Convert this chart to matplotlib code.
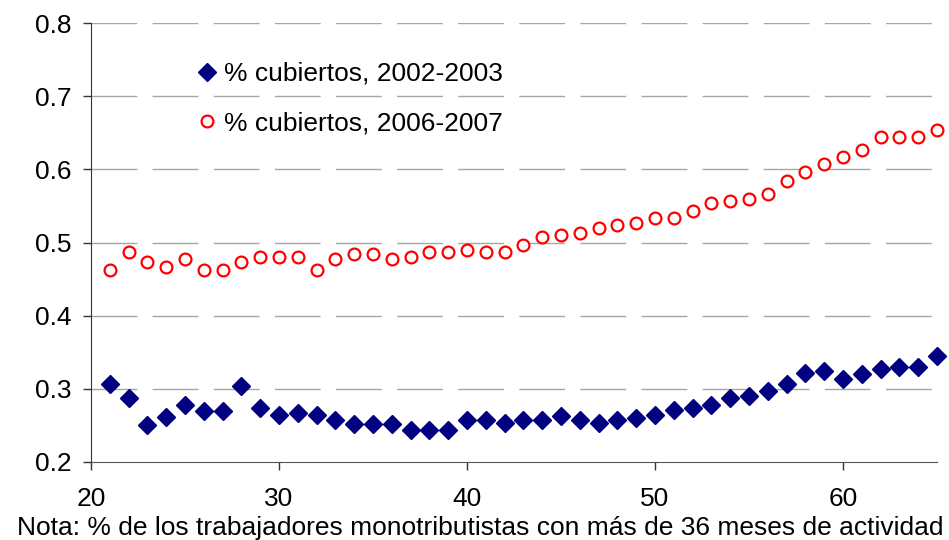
import numpy as np
import matplotlib
matplotlib.use("Agg")
import matplotlib.pyplot as plt

plt.rcParams['font.family'] = ['Liberation Sans', 'DejaVu Sans']

# edad (meses de actividad > 36)
edad = list(range(21, 66))

# % cubiertos, 2002-2003
cub_0203 = [0.307, 0.287, 0.250, 0.261, 0.277, 0.270, 0.270, 0.304, 0.274, 0.264,
            0.267, 0.264, 0.257, 0.251, 0.251, 0.251, 0.243, 0.244, 0.243, 0.257,
            0.257, 0.253, 0.257, 0.257, 0.263, 0.257, 0.253, 0.257, 0.260, 0.264,
            0.271, 0.273, 0.277, 0.287, 0.290, 0.297, 0.307, 0.321, 0.324, 0.313,
            0.320, 0.327, 0.330, 0.330, 0.344]

# % cubiertos, 2006-2007
cub_0607 = [0.463, 0.487, 0.473, 0.466, 0.477, 0.463, 0.463, 0.473, 0.480, 0.480,
            0.480, 0.463, 0.477, 0.484, 0.484, 0.477, 0.480, 0.487, 0.487, 0.490,
            0.487, 0.487, 0.497, 0.507, 0.510, 0.513, 0.520, 0.524, 0.527, 0.534,
            0.534, 0.543, 0.554, 0.557, 0.560, 0.567, 0.584, 0.597, 0.607, 0.617,
            0.627, 0.644, 0.644, 0.644, 0.654]

labels = ['% cubiertos, 2002-2003', '% cubiertos, 2006-2007']

W, H = 949, 540
fig = plt.figure(figsize=(W / 100, H / 100), dpi=100)
ax = fig.add_axes([91 / W, 1 - 461.7 / H, (937 - 91) / W, (461.7 - 23.3) / H])

ax.plot(edad, cub_0203, linestyle='none', marker='D', ms=9, color='#000080',
        mec='#000080', label=labels[0], clip_on=False, zorder=3)
ax.plot(edad, cub_0607, linestyle='none', marker='o', ms=8.5, mfc='white',
        mec='#ff0000', mew=1.6, label=labels[1], clip_on=False, zorder=3)

ax.set_xlim(20, 65)
ax.set_ylim(0.2, 0.8)
ax.set_xticks([20, 30, 40, 50, 60])
ax.set_yticks(np.arange(0.2, 0.81, 0.1))
ax.set_yticklabels(['0.2', '0.3', '0.4', '0.5', '0.6', '0.7', '0.8'])

for y in [0.3, 0.4, 0.5, 0.6, 0.7, 0.8]:
    ax.axhline(y, color='#a6a6a6', lw=1.0, dashes=(33, 11), zorder=1)

for s in ['top', 'right']:
    ax.spines[s].set_visible(False)
ax.spines['left'].set_color('#333333')
ax.spines['bottom'].set_color('#555555')
ax.tick_params(axis='both', direction='out', length=6, color='#333333',
               labelsize=19, width=1)
ax.tick_params(axis='y', pad=8)
ax.tick_params(axis='x', pad=12)

ax.legend(loc='upper left', bbox_to_anchor=(196 / W, 1 - 62 / H),
          bbox_transform=fig.transFigure, frameon=False, fontsize=19,
          handletextpad=0.25, labelspacing=0.95, handlelength=0.8,
          borderpad=0, borderaxespad=0)

fig.text(17 / W, 1 - 535 / H,
         'Nota: % de los trabajadores monotributistas con más de 36 meses de actividad',
         fontsize=19, ha='left', va='baseline')

fig.savefig('out.png', dpi=100)
